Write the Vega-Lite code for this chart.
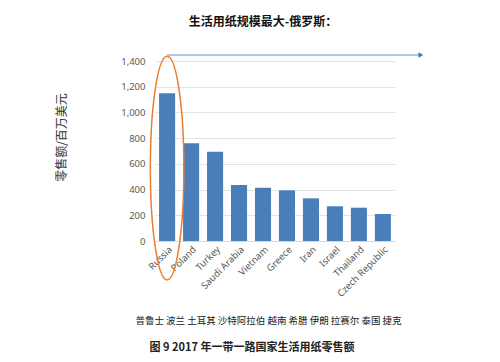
{
  "$schema": "https://vega.github.io/schema/vega-lite/v6.json",
  "width": 240,
  "height": 180,
  "autosize": "none",
  "padding": {"left": 155, "top": 61, "right": 105, "bottom": 121},
  "background": "white",
  "title": {
    "text": "生活用纸规模最大-俄罗斯：",
    "font": "Noto Sans CJK SC",
    "fontSize": 12,
    "fontWeight": "bold",
    "color": "#111111",
    "anchor": "middle",
    "frame": "group",
    "dx": -12,
    "offset": 23
  },
  "config": {
    "view": {"stroke": null},
    "font": "Noto Sans"
  },
  "data": {
    "values": [
      {"country": "Russia", "sales": 1150},
      {"country": "Poland", "sales": 760},
      {"country": "Turkey", "sales": 695},
      {"country": "Saudi Arabia", "sales": 435},
      {"country": "Vietnam", "sales": 415},
      {"country": "Greece", "sales": 394},
      {"country": "Iran", "sales": 332},
      {"country": "Israel", "sales": 270},
      {"country": "Thailand", "sales": 259},
      {"country": "Czech Republic", "sales": 210}
    ]
  },
  "encoding": {
    "x": {
      "field": "country",
      "type": "nominal",
      "sort": null,
      "scale": {
        "domain": ["Russia", "Poland", "Turkey", "Saudi Arabia", "Vietnam", "Greece", "Iran", "Israel", "Thailand", "Czech Republic"],
        "paddingInner": 0.33,
        "paddingOuter": 0.17
      },
      "axis": {
        "labelAngle": -45,
        "labelFontSize": 9.5,
        "labelColor": "#595959",
        "labelPadding": 3,
        "domainColor": "#d9d9d9",
        "ticks": false,
        "title": "普鲁士 波兰 土耳其 沙特阿拉伯 越南 希腊 伊朗 拉赛尔 泰国 捷克",
        "titleFont": "Noto Sans CJK SC",
        "titleFontSize": 9.5,
        "titleFontWeight": "normal",
        "titleColor": "#222222",
        "titlePadding": 17,
        "titleX": 113
      }
    },
    "y": {
      "field": "sales",
      "type": "quantitative",
      "scale": {"domain": [0, 1400], "nice": false, "zero": false},
      "axis": {
        "values": [0, 200, 400, 600, 800, 1000, 1200, 1400],
        "format": ",d",
        "labelFontSize": 9.5,
        "labelColor": "#595959",
        "labelPadding": 10,
        "domain": false,
        "ticks": false,
        "gridColor": "#e3e3e3",
        "title": "零售额/百万美元",
        "titleFont": "Noto Sans CJK SC",
        "titleFontSize": 12,
        "titleFontWeight": "normal",
        "titleColor": "#333333",
        "titleAlign": "center",
        "titlePadding": 52,
        "titleY": 76
      }
    }
  },
  "layer": [
    {
      "mark": {"type": "bar", "color": "#4a7ebb"}
    },
    {
      "data": {"values": [{"country": "Russia", "to": "Czech Republic", "sales": 1446}]},
      "mark": {"type": "rule", "color": "#9db5d6", "strokeWidth": 1.5, "x2Offset": 36},
      "encoding": {
        "x2": {"field": "to"}
      }
    },
    {
      "data": {"values": [{"country": "Czech Republic", "sales": 1446}]},
      "mark": {"type": "point", "shape": "triangle-right", "filled": true, "color": "#4472c4", "size": 30, "opacity": 1, "xOffset": 38}
    },
    {
      "data": {"values": [{"country": "Russia", "sales": 567}]},
      "mark": {
        "type": "point",
        "shape": "M -0.15 0 A 0.15 1 0 1 0 0.15 0 A 0.15 1 0 1 0 -0.15 0 Z",
        "filled": false,
        "color": "#ed7d31",
        "strokeWidth": 1.5,
        "opacity": 1,
        "size": 50000
      }
    },
    {
      "data": {"values": [{"country": "Saudi Arabia", "sales": -832, "caption": "图 9  2017 年一带一路国家生活用纸零售额"}]},
      "mark": {
        "type": "text",
        "font": "Noto Sans CJK SC",
        "fontSize": 11,
        "fontWeight": "bold",
        "color": "#222222",
        "xOffset": 13
      },
      "encoding": {
        "text": {"field": "caption"}
      }
    }
  ]
}
